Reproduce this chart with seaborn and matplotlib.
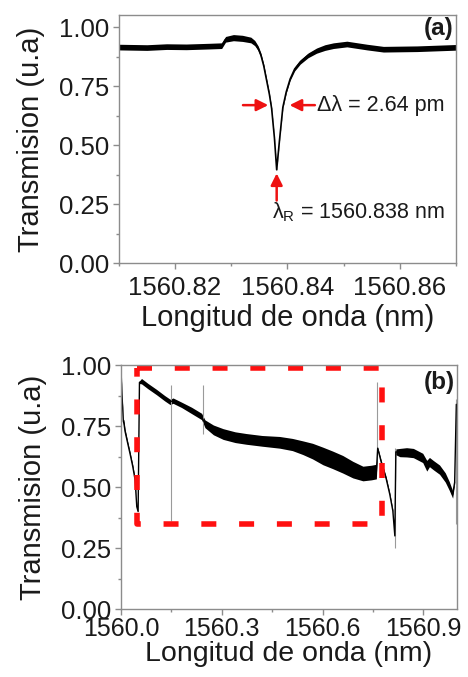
import numpy as np
import matplotlib
matplotlib.use('Agg')
import matplotlib.pyplot as plt
import seaborn as sns

# (a) resonancia: longitud de onda, transmision y semiancho de la banda de ruido
a_wl = [1560.8100, 1560.8150, 1560.8185, 1560.8220, 1560.8260, 1560.8283, 1560.8290,
        1560.8304, 1560.8320, 1560.8335, 1560.8342, 1560.8348, 1560.8353, 1560.8358,
        1560.8363, 1560.8368, 1560.8372, 1560.8377, 1560.8381, 1560.8386, 1560.8392,
        1560.8398, 1560.8405, 1560.8413, 1560.8423, 1560.8437, 1560.8452, 1560.8467,
        1560.8482, 1560.8506, 1560.8542, 1560.8571, 1560.8631, 1560.8701]
a_tr = [0.915, 0.913, 0.917, 0.916, 0.919, 0.921, 0.948,
        0.955, 0.952, 0.945, 0.932, 0.910, 0.880, 0.835,
        0.775, 0.715, 0.655, 0.530, 0.395, 0.520, 0.660,
        0.725, 0.780, 0.822, 0.852, 0.880, 0.900, 0.913,
        0.921, 0.928, 0.915, 0.906, 0.908, 0.914]
a_hw = [0.012, 0.012, 0.012, 0.012, 0.012, 0.012, 0.012,
        0.013, 0.013, 0.012, 0.011, 0.010, 0.009, 0.007,
        0.006, 0.005, 0.004, 0.003, 0.003, 0.003, 0.004,
        0.005, 0.006, 0.008, 0.009, 0.010, 0.011, 0.012,
        0.012, 0.012, 0.012, 0.012, 0.012, 0.012]

# anotaciones (a)
fwhm_level = 0.669
fwhm_left = [1560.8321, 1560.8366]
fwhm_right = [1560.8449, 1560.8404]
res_wl = 1560.8381
res_tr = [0.265, 0.38]

# (b) espectro completo
b_wl = [1560.000, 1560.003, 1560.007, 1560.009, 1560.012, 1560.020, 1560.027, 1560.035,
        1560.042, 1560.047, 1560.051, 1560.055, 1560.061, 1560.080, 1560.106, 1560.130,
        1560.146, 1560.155, 1560.180, 1560.210, 1560.240, 1560.250, 1560.275, 1560.304,
        1560.340, 1560.373, 1560.420, 1560.472, 1560.510, 1560.541, 1560.570, 1560.601,
        1560.630, 1560.660, 1560.690, 1560.720, 1560.745, 1560.760, 1560.764, 1560.775,
        1560.789, 1560.800, 1560.809, 1560.815, 1560.818, 1560.830, 1560.850, 1560.870,
        1560.898, 1560.910, 1560.918, 1560.930, 1560.948, 1560.965, 1560.977, 1560.987,
        1560.993, 1560.998]
b_tr = [0.985, 0.880, 0.770, 0.760, 0.730, 0.680, 0.637, 0.585,
        0.530, 0.420, 0.400, 0.930, 0.935, 0.915, 0.890, 0.865,
        0.850, 0.855, 0.838, 0.815, 0.790, 0.760, 0.735, 0.718,
        0.705, 0.698, 0.690, 0.684, 0.675, 0.662, 0.648, 0.628,
        0.612, 0.594, 0.572, 0.556, 0.560, 0.564, 0.660, 0.600,
        0.536, 0.470, 0.403, 0.300, 0.645, 0.642, 0.643, 0.640,
        0.620, 0.588, 0.603, 0.590, 0.572, 0.540, 0.505, 0.470,
        0.520, 0.840]
b_hw = [0.004, 0.008, 0.010, 0.015, 0.010, 0.008, 0.008, 0.008,
        0.008, 0.006, 0.000, 0.005, 0.011, 0.011, 0.011, 0.011,
        0.011, 0.011, 0.011, 0.013, 0.013, 0.016, 0.020, 0.022,
        0.022, 0.022, 0.022, 0.024, 0.025, 0.028, 0.032, 0.036,
        0.036, 0.036, 0.034, 0.030, 0.030, 0.030, 0.005, 0.008,
        0.008, 0.007, 0.006, 0.003, 0.012, 0.017, 0.019, 0.019,
        0.019, 0.022, 0.019, 0.019, 0.019, 0.019, 0.018, 0.015,
        0.006, 0.004]

# picos finos (b)
spike_wl = [1560.150, 1560.245, 1560.762, 1560.816, 1560.997]
spike_lo = [0.36, 0.72, 0.62, 0.25, 0.35]
spike_hi = [0.92, 0.92, 0.93, 0.66, 0.86]

# recuadro rojo (b)
box_wl = [1560.048, 1560.778]
box_tr = [0.347, 0.988]

sns.set_style('ticks')
plt.rcParams['font.family'] = ['Liberation Sans', 'DejaVu Sans']
plt.rcParams['mathtext.default'] = 'regular'

fig = plt.figure(figsize=(4.68, 6.77), dpi=100)
ax_a = fig.add_axes([0.254, 0.6115, 0.720, 0.366])
ax_b = fig.add_axes([0.2585, 0.1004, 0.718, 0.360])

txt_color = '#1a1a1a'
spine_color = '#8c8c8c'


def style_axes(ax, xsize, xpad, labsize, labelpad):
    for s in ax.spines.values():
        s.set_color(spine_color)
        s.set_linewidth(1.0)
    ax.tick_params(which='both', direction='out', color=spine_color, labelcolor=txt_color,
                   labelsize=18.5)
    ax.tick_params(axis='y', pad=3)
    ax.tick_params(axis='x', pad=xpad, labelsize=xsize)
    ax.tick_params(which='major', length=4, width=1)
    ax.tick_params(which='minor', length=2.5, width=1)
    ax.set_ylabel('Transmision (u.a)', fontsize=21, color=txt_color, labelpad=10)
    ax.set_xlabel('Longitud de onda (nm)', fontsize=labsize, color=txt_color, labelpad=labelpad)
    ax.set_yticks([0.0, 0.25, 0.5, 0.75, 1.0])
    ax.set_yticks([0.125, 0.375, 0.625, 0.875], minor=True)
    ax.set_yticklabels(['0.00', '0.25', '0.50', '0.75', '1.00'])


# panel (a)
a_lo = np.array(a_tr) - np.array(a_hw)
a_hi = np.array(a_tr) + np.array(a_hw)
ax_a.fill_between(a_wl, a_lo, a_hi, color='black', lw=0)
sns.lineplot(x=a_wl, y=a_tr, ax=ax_a, color='black', lw=1.2, sort=False)
ax_a.set_xlim(1560.81, 1560.87)
ax_a.set_ylim(0, 1.05)
ax_a.set_xticks([1560.82, 1560.84, 1560.86])
ax_a.set_xticks([1560.81, 1560.83, 1560.85, 1560.87], minor=True)
ax_a.set_xticklabels(['1560.82', '1560.84', '1560.86'])
style_axes(ax_a, 18.5, 5, 21, 3)

arrow = dict(arrowstyle='-|>,head_length=0.7,head_width=0.35', color='#ee1111', lw=1.8,
             shrinkA=0, shrinkB=0)
ax_a.annotate('', xy=(fwhm_left[1], fwhm_level), xytext=(fwhm_left[0], fwhm_level), arrowprops=arrow)
ax_a.annotate('', xy=(fwhm_right[1], fwhm_level), xytext=(fwhm_right[0], fwhm_level), arrowprops=arrow)
ax_a.annotate('', xy=(res_wl, res_tr[1]), xytext=(res_wl, res_tr[0]), arrowprops=arrow)
ax_a.text(fwhm_right[0] + 0.0004, fwhm_level, 'Δλ = 2.64 pm', fontsize=15.5, color=txt_color,
          ha='left', va='center')
ax_a.text(res_wl - 0.0009, 0.215, 'λ$_R$ = 1560.838 nm', fontsize=15.5, color=txt_color,
          ha='left', va='center')
ax_a.text(0.993, 0.945, '(a)', transform=ax_a.transAxes, fontsize=17.5, fontweight='bold',
          color=txt_color, ha='right', va='center')

# panel (b)
b_lo = np.array(b_tr) - np.array(b_hw)
b_hi = np.array(b_tr) + np.array(b_hw)
ax_b.vlines(spike_wl, spike_lo, spike_hi, color='#9a9a9a', lw=0.8)
ax_b.fill_between(b_wl, b_lo, b_hi, color='black', lw=0)
sns.lineplot(x=b_wl, y=b_tr, ax=ax_b, color='black', lw=1.0, sort=False)
bx = [box_wl[0], box_wl[1], box_wl[1], box_wl[0], box_wl[0]]
by = [box_tr[1], box_tr[1], box_tr[0], box_tr[0], box_tr[1]]
ax_b.plot(bx, by, color='#ff1010', lw=4.0, linestyle=(0, (2.7, 4.1)))
ax_b.set_xlim(1560.0, 1561.0)
ax_b.set_ylim(0, 1.0)
ax_b.set_xticks([1560.0, 1560.3, 1560.6, 1560.9])
ax_b.set_xticks([1560.15, 1560.45, 1560.75], minor=True)
ax_b.set_xticklabels(['1560.0', '1560.3', '1560.6', '1560.9'])
style_axes(ax_b, 18, 2, 20.5, 0)
ax_b.text(0.995, 0.93, '(b)', transform=ax_b.transAxes, fontsize=17.5, fontweight='bold',
          color=txt_color, ha='right', va='center')

fig.savefig('out.png', dpi=100)
